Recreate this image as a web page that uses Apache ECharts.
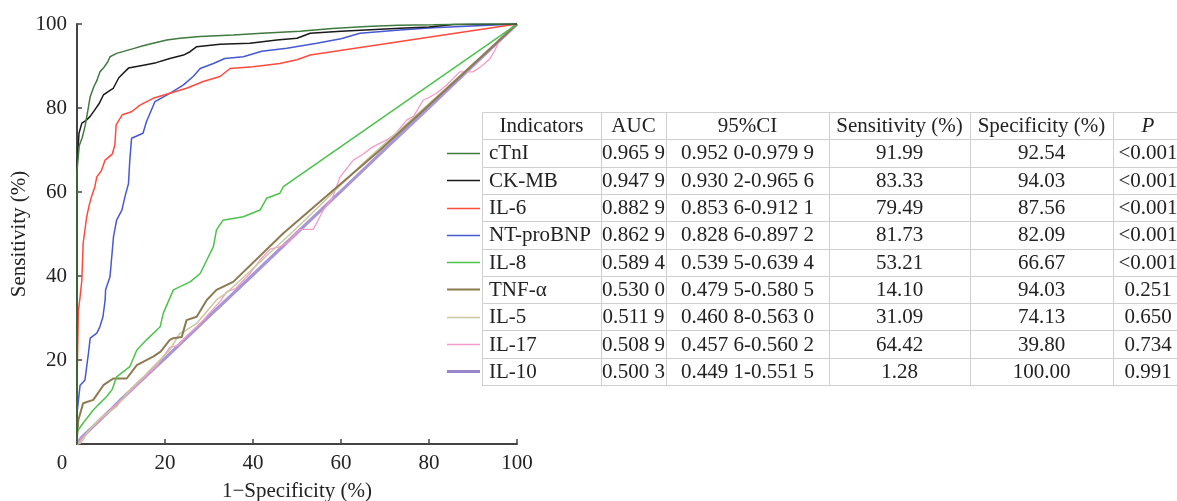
<!DOCTYPE html>
<html>
<head>
<meta charset="utf-8">
<script src="https://cdn.jsdelivr.net/npm/echarts@6/dist/echarts.min.js"></script>
<style>
html,body{margin:0;padding:0;background:#fff;}
#chart{width:1177px;height:501px;}
</style>
</head>
<body>
<div id="chart"></div>
<script>
// ---------- data ----------
const categories = ['cTnI', 'CK-MB', 'IL-6', 'NT-proBNP', 'IL-8', 'TNF-α', 'IL-5', 'IL-17', 'IL-10'];
const tableHeaders = ['Indicators', 'AUC', '95%CI', 'Sensitivity (%)', 'Specificity (%)', 'P'];
const aucValues = ['0.965 9', '0.947 9', '0.882 9', '0.862 9', '0.589 4', '0.530 0', '0.511 9', '0.508 9', '0.500 3'];
const ciValues = ['0.952 0-0.979 9', '0.930 2-0.965 6', '0.853 6-0.912 1', '0.828 6-0.897 2', '0.539 5-0.639 4',
  '0.479 5-0.580 5', '0.460 8-0.563 0', '0.457 6-0.560 2', '0.449 1-0.551 5'];
const sensValues = ['91.99', '83.33', '79.49', '81.73', '53.21', '14.10', '31.09', '64.42', '1.28'];
const specValues = ['92.54', '94.03', '87.56', '82.09', '66.67', '94.03', '74.13', '39.80', '100.00'];
const pValues = ['<0.001', '<0.001', '<0.001', '<0.001', '<0.001', '0.251', '0.650', '0.734', '0.991'];
const xAxisName = '1\u2212Specificity (%)';
const yAxisName = 'Sensitivity (%)';

// ROC curves: [1-specificity %, sensitivity %]
const rocCTnI = [[0,0],[0,65],[0.5,71],[1.2,73],[1.8,75.5],[2.4,79],[3,82.7],[3.8,85],[4.5,86.5],[5.2,88.6],[6,89.5],[7,91],[7.5,92.2],[9,93],[11,93.6],[13,94.2],[15,94.8],[17.3,95.4],[20.4,96.2],[23.4,96.6],[28,97],[35.5,97.4],[42,97.8],[50.7,98.3],[58,98.9],[65.8,99.4],[73,99.7],[81,99.8],[90,100],[100,100]];
const rocCKMB = [[0,0],[0,66],[0.45,74],[1.1,76.4],[2,77],[3,78],[4,79.5],[5,81],[6,83.1],[7.5,84.2],[8.25,84.7],[9.5,87.2],[11.7,89.5],[15.1,90.2],[18,90.8],[21.1,91.8],[24.2,92.6],[25.7,93.4],[27.2,94.6],[32.5,95.2],[39.3,95.4],[45.4,96.2],[50,96.6],[53,97.8],[60,98.3],[73.4,99],[80,99.3],[85.5,99.9],[100,100]];
const rocIL6 = [[0,0],[0,14],[0.3,31.5],[0.7,35],[1.1,39],[1.3,45],[1.4,47.8],[2,52.5],[2.2,54.1],[2.8,57],[3.3,58.9],[4,61],[4.5,63.6],[5.5,65],[6.4,67.6],[8,69],[8.6,71.2],[8.9,76],[10.3,78.4],[12.4,79.1],[14.3,80.7],[17.3,82.3],[21.1,83.5],[24.9,84.7],[28.7,86.3],[32.5,87.5],[34.8,89.4],[40,89.8],[46.1,90.6],[50,91.5],[53,92.6],[100,100]];
const rocNTproBNP = [[0,0],[0,7.3],[0.7,14],[1.8,15.2],[2.6,21.6],[3,25.2],[4.5,26.4],[5.2,27.9],[5.9,30.3],[6.4,34.3],[6.5,36.7],[7.5,39.8],[8.3,49.4],[9,53.3],[10.2,55.7],[10.9,58.9],[11.7,62],[12,67.6],[12.4,72.8],[15,74],[15.8,76.8],[17.7,81.5],[21.1,83.5],[24.2,85.5],[26.4,87.5],[28,89.4],[31,90.6],[33.6,91.8],[37.8,92.2],[42,93.5],[47.7,94.2],[54.5,95.4],[60,96.5],[64.3,97.8],[73.4,98.6],[80.9,99.1],[100,100]];
const rocIL8 = [[0,0],[0,2.9],[1.4,5],[3.7,8.1],[5,9.5],[6.75,11.3],[8,13],[9,16],[12,18.4],[13.6,22.4],[15.8,24.8],[18.9,27.9],[19.6,31.1],[21.9,36.7],[25.7,38.6],[28,40.6],[29.5,43.8],[31,47],[31.7,51],[33.2,53.3],[37.8,54.1],[41.6,55.7],[43.1,58.5],[46.1,59.7],[46.9,61.3],[96.5,97.4],[100,100]];
const rocTNFa = [[0,0],[0,1.7],[0.3,5.7],[1.4,9.7],[3.7,10.5],[6,14],[8.25,15.6],[11.3,15.6],[13.6,18.8],[17.3,20.8],[19,22],[21.1,24.8],[21.9,25.2],[23.8,25.5],[24.9,29.5],[27.2,30.3],[29.5,34.3],[31.7,36.7],[35.5,38.6],[46.9,50.2],[58.3,60.5],[68.9,70],[100,100]];
const rocIL5 = [[0,0],[0.7,0.2],[1.4,1],[2.2,2.6],[5.2,6.1],[9,8.9],[12,12.9],[15.1,16],[18.1,19.2],[21.1,22.4],[23.4,26.4],[24.2,26.7],[27.2,28.7],[31.7,34.3],[33.9,35.9],[50,51.5],[65.8,67.6],[100,100]];
const rocIL17 = [[0,0],[3,3.5],[6,6.5],[9,9.5],[12,12.5],[15,15.5],[18,18.5],[19.6,20.8],[21.1,23],[23,23.5],[25,25.8],[28,28.7],[30,31],[32.5,33.9],[34,36.2],[36,37],[39.3,40.6],[41.6,43.8],[43.9,46.4],[46.1,47],[47.7,47.8],[50.7,51.1],[53.7,51.1],[56,55.7],[58,58.5],[59.8,63.6],[62.8,67.6],[65,69],[67.3,70.8],[70.4,72.4],[72.5,74],[74.9,77.1],[76.5,78],[78.7,81.9],[80,82.5],[81.7,83.5],[84,85.5],[87,88.6],[90,88.6],[92,90],[93.9,91.8],[95,93.8],[96.1,96.2],[98,98],[100,100]];
const rocIL10 = [[0,0],[1,1.5],[2,2.5],[4,4.5],[6,6.5],[8,8.5],[10,10.6],[15,15.5],[20,20.4],[30,30.4],[40,40.3],[50,50.3],[60,60.2],[70,70.2],[80,80.1],[90,90.1],[100,100]];

const rocData = [rocCTnI, rocCKMB, rocIL6, rocNTproBNP, rocIL8, rocTNFa, rocIL5, rocIL17, rocIL10];

// ---------- styles ----------
const colors = ['#3f7a3f', '#1a1a1a', '#ff4a3d', '#4658d2', '#4cc24c', '#8c7a52', '#cbc79e', '#f39bc9', '#9a84cc'];
const widths = [1.5, 1.5, 1.5, 1.5, 1.5, 2, 1.5, 1.3, 3.2];
const FONT = "'Liberation Serif', 'Times New Roman', serif";
const TXT = '#222';

// ---------- table (graphic) ----------
const colEdges = [482, 601, 666, 829, 970, 1113, 1200];
const tableTop = 112, rowH = 27.3;
const nRows = categories.length + 1;
const graphic = [];
const lineColor = '#cfcfcf';
for (let r = 0; r <= nRows; r++) {
  const y = Math.round(tableTop + r * rowH) + 0.5;
  graphic.push({type: 'line', shape: {x1: colEdges[0], y1: y, x2: 1177, y2: y}, style: {stroke: lineColor, lineWidth: 1}, silent: true});
}
for (let c = 0; c < colEdges.length - 1; c++) {
  const x = colEdges[c] + 0.5;
  graphic.push({type: 'line', shape: {x1: x, y1: tableTop, x2: x, y2: tableTop + nRows * rowH}, style: {stroke: lineColor, lineWidth: 1}, silent: true});
}
const columns = [categories, aucValues, ciValues, sensValues, specValues, pValues];
const fs = 21;
function cellText(text, c, r, italic) {
  const cy = tableTop + r * rowH + rowH / 2 + 1;
  let x, align;
  if (c === 0 && r > 0) { x = colEdges[0] + 7; align = 'left'; }
  else if (c === 5) { x = 1148; align = 'center'; }
  else { x = (colEdges[c] + colEdges[c + 1]) / 2; align = 'center'; }
  graphic.push({type: 'text', silent: true, style: {text: text, x: x, y: cy, align: align, verticalAlign: 'middle',
    fontSize: fs, fontFamily: FONT, fontStyle: italic ? 'italic' : 'normal', fill: TXT}});
}
tableHeaders.forEach((h, c) => cellText(h, c, 0, c === 5));
columns.forEach((col, c) => col.forEach((v, i) => cellText(v, c, i + 1, false)));
// legend line samples
categories.forEach((name, i) => {
  const cy = Math.round(tableTop + (i + 1) * rowH + rowH / 2) + 0.5;
  graphic.push({type: 'line', silent: true, shape: {x1: 447, y1: cy, x2: 480, y2: cy},
    style: {stroke: colors[i], lineWidth: widths[i]}});
});

// ---------- series ----------
const series = [];
for (let i = categories.length - 1; i >= 0; i--) {
  series.push({
    name: categories[i], type: 'line', data: rocData[i], showSymbol: false, symbol: 'none',
    lineStyle: {color: colors[i], width: widths[i], opacity: i === 8 ? 0.85 : 1},
    itemStyle: {color: colors[i]}, animation: false, silent: true, z: 2
  });
}

const chart = echarts.init(document.getElementById('chart'), null, {renderer: 'canvas'});
chart.setOption({
  backgroundColor: '#fff',
  animation: false,
  grid: {left: 77, right: 660, top: 24, bottom: 57, containLabel: false, outerBoundsMode: 'none'},
  xAxis: {
    type: 'value', min: 0, max: 100, interval: 20,
    name: xAxisName, nameLocation: 'middle', nameGap: 37,
    nameTextStyle: {fontFamily: FONT, fontSize: 21, color: TXT},
    axisLine: {show: true, lineStyle: {color: '#444', width: 2}},
    axisTick: {show: true, inside: true, length: 5, lineStyle: {color: '#444', width: 1.5}},
    axisLabel: {fontFamily: FONT, fontSize: 21, color: TXT, margin: 9,
      formatter: v => v === 0 ? '{z|0}' : String(v),
      rich: {z: {fontFamily: FONT, fontSize: 21, color: TXT, padding: [0, 30, 0, 0]}}},
    splitLine: {show: false}
  },
  yAxis: {
    type: 'value', min: 0, max: 100, interval: 20,
    name: yAxisName, nameLocation: 'middle', nameGap: 47,
    nameTextStyle: {fontFamily: FONT, fontSize: 21, color: TXT},
    axisLine: {show: true, lineStyle: {color: '#444', width: 2}},
    axisTick: {show: true, inside: true, length: 5, lineStyle: {color: '#444', width: 1.5}},
    axisLabel: {fontFamily: FONT, fontSize: 21, color: TXT, margin: 10,
      formatter: v => v === 0 ? '' : String(v)},
    splitLine: {show: false}
  },
  graphic: graphic,
  series: series
});
</script>
</body>
</html>
